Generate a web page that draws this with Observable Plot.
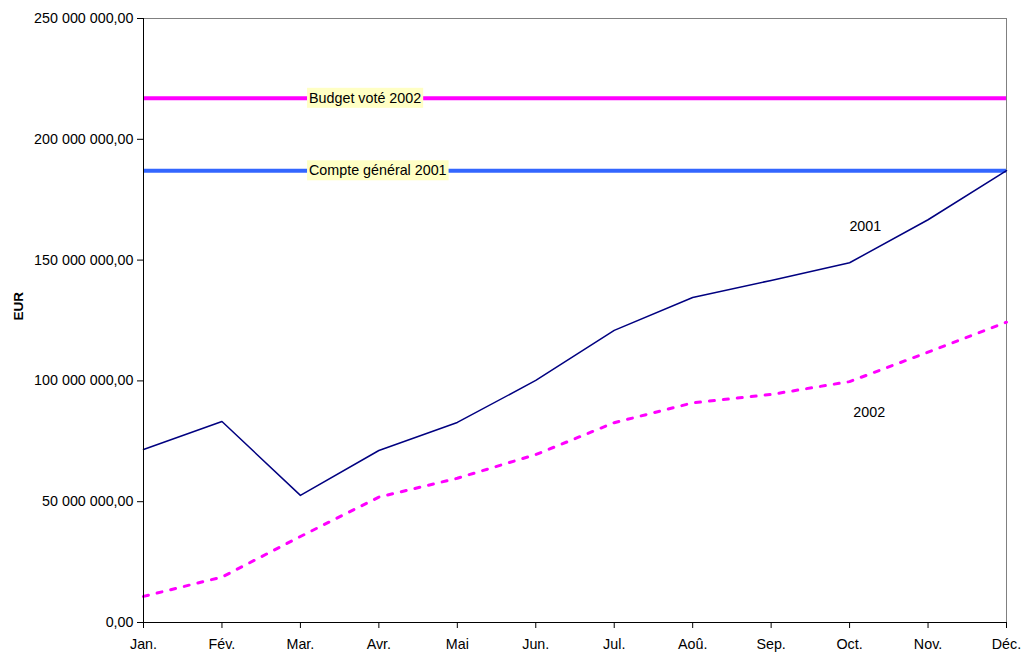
<!DOCTYPE html>
<html>
<head>
<meta charset="utf-8">
<script src="https://cdn.jsdelivr.net/npm/d3@7"></script>
<script src="https://cdn.jsdelivr.net/npm/@observablehq/plot@0.6"></script>
<style>
  html, body { margin: 0; padding: 0; background: #fff; }
  #chart { width: 1029px; height: 655px; }
  svg { font-family: "Liberation Sans", Arial, sans-serif; }
</style>
</head>
<body>
<div id="chart"></div>
<script>
// Monthly cumulative spending (EUR)
const months = ["Jan.", "Fév.", "Mar.", "Avr.", "Mai", "Jun.", "Jul.", "Aoû.", "Sep.", "Oct.", "Nov.", "Déc."];
const values2001 = [71.6e6, 83.2e6, 52.6e6, 71.2e6, 82.8e6, 100.2e6, 120.9e6, 134.5e6, 141.6e6, 148.9e6, 166.7e6, 187.0e6];
const values2002 = [10.8e6, 18.8e6, 35.6e6, 51.9e6, 59.7e6, 69.5e6, 82.7e6, 90.9e6, 94.4e6, 99.7e6, 111.9e6, 124.3e6];

// Reference levels
const refNames = ["Budget voté 2002", "Compte général 2001"];
const refValues = [217e6, 187e6];
const refColors = ["#ff00ff", "#3366ff"];

// Series labels
const seriesNames = ["2001", "2002"];
const seriesLabelPos = [9.2, 9.25];
const seriesLabelValues = [164e6, 87e6];

const yTicks = [0, 50e6, 100e6, 150e6, 200e6, 250e6];

const FS = 14.3;

const fr = d3.formatLocale({decimal: ",", thousands: "\u00a0", grouping: [3]});
const fmt = fr.format(",.2f");

const idx = months.map((_, i) => i);
const rows2001 = idx.map(i => ({i, v: values2001[i]}));
const rows2002 = idx.map(i => ({i, v: values2002[i]}));
const refs = refNames.map((name, k) => ({name, v: refValues[k], color: refColors[k]}));
const seriesLabels = seriesNames.map((name, k) => ({name, i: seriesLabelPos[k], v: seriesLabelValues[k]}));

const plot = Plot.plot({
  width: 1029,
  height: 655,
  marginLeft: 143,
  marginRight: 23,
  marginTop: 18,
  marginBottom: 33,
  style: {fontSize: FS + "px", fontFamily: "'Liberation Sans', Arial, sans-serif", color: "#000"},
  x: {type: "linear", domain: [0, 11]},
  y: {domain: [0, 250e6]},
  marks: [
    // frame: grey top/right, black left/bottom
    Plot.ruleY([250e6], {stroke: "#808080", strokeWidth: 1}),
    Plot.ruleX([11], {stroke: "#808080", strokeWidth: 1}),
    Plot.axisY({ticks: yTicks, tickFormat: fmt, tickSize: 6, tickPadding: 4, label: null, fontSize: FS}),
    Plot.axisX({ticks: idx, tickFormat: i => months[i], tickSize: 6, tickPadding: 10, label: null, fontSize: FS}),
    Plot.text(["EUR"], {frameAnchor: "left", dx: -125, rotate: -90, fontWeight: "bold", fontSize: 13.5}),
    // reference lines
    Plot.ruleY(refs, {y: "v", x1: 0, x2: 11, stroke: "color", strokeWidth: 4}),
    // series
    Plot.line(rows2002, {x: "i", y: "v", stroke: "#ff00ff", strokeWidth: 3, strokeDasharray: "5,9"}),
    Plot.line(rows2001, {x: "i", y: "v", stroke: "#000080", strokeWidth: 1.5}),
    Plot.ruleX([0], {stroke: "#000", strokeWidth: 1}),
    Plot.ruleY([0], {stroke: "#000", strokeWidth: 1}),
    // labels
    Plot.text(refs, {x: 2.11, y: "v", text: "name", textAnchor: "start", fill: "#000", fontSize: FS}),
    Plot.text(seriesLabels, {x: "i", y: "v", text: "name", fill: "#000", fontSize: FS})
  ]
});

document.getElementById("chart").appendChild(plot);

// Light yellow boxes behind the reference labels
d3.select(plot).selectAll("text").each(function() {
  if (!refNames.includes(this.textContent)) return;
  const b = this.getBBox();
  const r = document.createElementNS("http://www.w3.org/2000/svg", "rect");
  r.setAttribute("x", b.x - 2);
  r.setAttribute("y", b.y - 2);
  r.setAttribute("width", b.width + 4);
  r.setAttribute("height", b.height + 4);
  r.setAttribute("fill", "#ffffc4");
  const t = this.getAttribute("transform");
  if (t) r.setAttribute("transform", t);
  this.parentNode.insertBefore(r, this);
});
</script>
</body>
</html>
